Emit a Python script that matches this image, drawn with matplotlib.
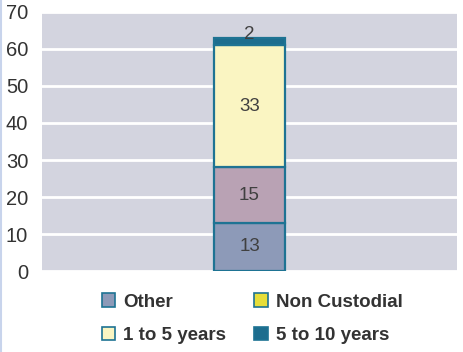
import matplotlib
matplotlib.use("Agg")
from matplotlib import pyplot as plt
from matplotlib.patches import Patch

plt.rcParams['font.family'] = ['Liberation Sans', 'DejaVu Sans']

# data
segments = ['Other', 'Non Custodial', '1 to 5 years', '5 to 10 years']
values = [13, 15, 33, 2]
bar_colors = ['#8D9AB8', '#B9A2B4', '#FAF5C2', '#1D6D8E']
legend_colors = ['#8D9AB8', '#E6DE3A', '#FAF5C2', '#1D6D8E']
edge = '#1E7393'

fig = plt.figure(figsize=(4.63, 3.52), dpi=100)
ax = fig.add_axes([0.091, 0.23, 0.896, 0.736])
ax.set_facecolor('#D3D4DF')

bottom = 0
for name, v, c in zip(segments, values, bar_colors):
    ax.bar(0, v, width=0.171, bottom=bottom, color=c, edgecolor=edge, linewidth=1.6, zorder=3)
    if v < 5:
        ax.text(0, bottom + v + 0.8, str(v), ha='center', va='center', fontsize=13.5, color='#404040', zorder=4)
    else:
        ax.text(0, bottom + v / 2, str(v), ha='center', va='center', fontsize=13.5, color='#404040', zorder=4)
    bottom += v

ax.set_xlim(-0.5, 0.5)
ax.set_ylim(0, 70)
ax.set_yticks(range(0, 71, 10))
ax.set_xticks([])
ax.yaxis.grid(True, color='white', linewidth=2)
ax.set_axisbelow(True)
for s in ax.spines.values():
    s.set_visible(False)
ax.tick_params(axis='y', length=0, labelsize=14.5, labelcolor='#333333', pad=10)

handles = [Patch(facecolor=legend_colors[i], edgecolor=edge, linewidth=1.2, label=segments[i]) for i in [0, 2, 1, 3]]
leg = fig.legend(handles=handles, ncol=2, loc='center', bbox_to_anchor=(0.545, 0.095), frameon=False,
                 prop={'weight': 'bold', 'size': 13.5}, handlelength=0.7, handleheight=0.7,
                 handletextpad=0.45, columnspacing=1.5, labelspacing=0.85)
for t in leg.get_texts():
    t.set_color('#333333')

fig.add_artist(plt.Line2D([0.002, 0.002], [0, 1], color='#C8D4EC', linewidth=1.5))

fig.savefig('out.png', dpi=100)
